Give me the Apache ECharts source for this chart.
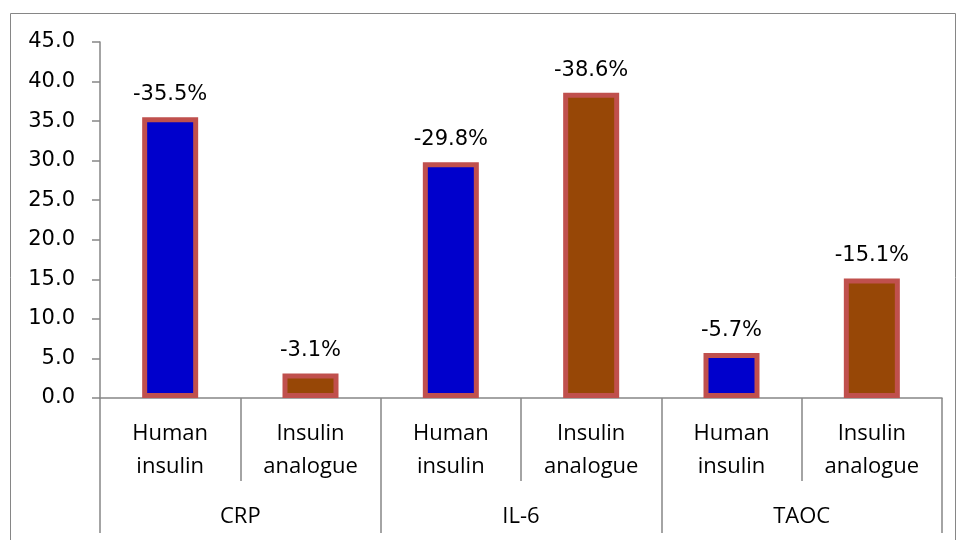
<!DOCTYPE html>
<html>
<head>
<meta charset="utf-8">
<script src="https://cdn.jsdelivr.net/npm/echarts@6/dist/echarts.min.js"></script>
<style>
  html, body { margin: 0; padding: 0; background: #fff; }
  #main { width: 958px; height: 540px; }
</style>
</head>
<body>
<div id="main"></div>
<script>
// 数据
const categories = ['Human\ninsulin', 'Insulin\nanalogue', 'Human\ninsulin', 'Insulin\nanalogue', 'Human\ninsulin', 'Insulin\nanalogue'];
const groups = ['CRP', 'IL-6', 'TAOC'];
const humanInsulin = [35.5, 29.8, 5.7];     // CRP, IL-6, TAOC
const insulinAnalogue = [3.1, 38.6, 15.1];
const yTicks = { min: 0, max: 45, interval: 5 };

// 展开到6个类目上，空位用 '-'
const humanData = [];
const analogueData = [];
groups.forEach((g, i) => {
  humanData.push(humanInsulin[i], '-');
  analogueData.push('-', insulinAnalogue[i]);
});

const axisColor = '#868686';
const numFont = '"DejaVu Sans", sans-serif';   // 数字
const txtFont = '"Open Sans", "DejaVu Sans", sans-serif'; // 文字

let chart = echarts.init(document.getElementById('main'));

const barLabel = {
  show: true,
  position: 'top',
  distance: 12,
  color: '#000',
  fontSize: 21,
  fontFamily: numFont,
  formatter: p => '-' + p.value.toFixed(1) + '%',
};

const option = {
  animation: false,
  graphic: [{
    type: 'rect',
    shape: { x: 10.5, y: 13.5, width: 945, height: 540 },
    style: { fill: 'none', stroke: axisColor, lineWidth: 1 },
    silent: true,
  }],
  grid: { left: 100, right: 16, top: 42, bottom: 142 },
  xAxis: [
    {
      type: 'category',
      data: categories,
      position: 'bottom',
      axisLine: { lineStyle: { color: axisColor, width: 1.5 } },
      axisTick: { show: true, length: 83, lineStyle: { color: axisColor, width: 1.5 } },
      axisLabel: { color: '#000', fontSize: 22, fontFamily: txtFont, lineHeight: 33, margin: 19, interval: 0 },
    },
    {
      type: 'category',
      data: groups,
      position: 'bottom',
      axisLine: { show: false },
      axisTick: { show: true, length: 135, lineStyle: { color: axisColor, width: 1.5 } },
      axisLabel: { color: '#000', fontSize: 22, fontFamily: txtFont, lineHeight: 22, margin: 108, interval: 0 },
    },
  ],
  yAxis: {
    type: 'value',
    min: yTicks.min,
    max: yTicks.max,
    interval: yTicks.interval,
    axisLine: { show: true, lineStyle: { color: axisColor, width: 1.5 } },
    axisTick: { show: true, length: 8, lineStyle: { color: axisColor, width: 1.5 } },
    splitLine: { show: false },
    axisLabel: { color: '#000', fontSize: 21, fontFamily: numFont, margin: 25, formatter: v => v.toFixed(1) },
  },
  series: [
    {
      name: 'Human insulin',
      type: 'bar',
      xAxisIndex: 0,
      data: humanData,
      barWidth: 56,
      barGap: '-100%',
      itemStyle: { color: '#0000CC', borderColor: '#C0504D', borderWidth: 5 },
      label: barLabel,
    },
    {
      name: 'Insulin analogue',
      type: 'bar',
      xAxisIndex: 0,
      data: analogueData,
      barWidth: 56,
      barGap: '-100%',
      itemStyle: { color: '#974706', borderColor: '#C0504D', borderWidth: 5 },
      label: barLabel,
    },
  ],
};

chart.setOption(option);
</script>
</body>
</html>
